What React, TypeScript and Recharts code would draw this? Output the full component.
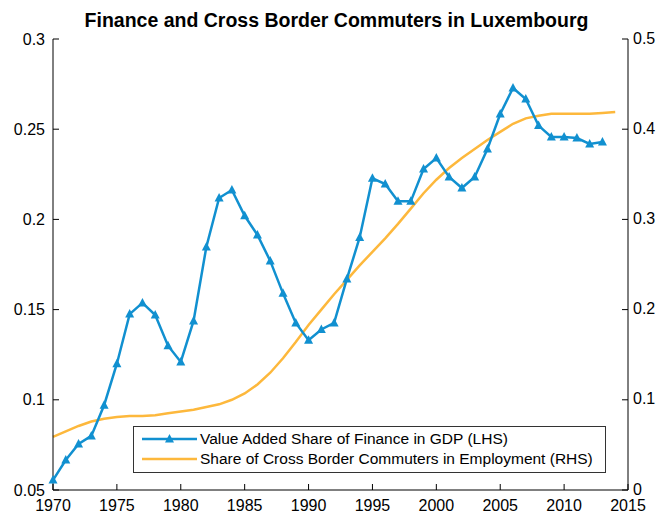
import { Legend, Line, LineChart, XAxis, YAxis } from "recharts";

const years = [
  1970, 1971, 1972, 1973, 1974, 1975, 1976, 1977, 1978, 1979, 1980, 1981, 1982, 1983, 1984,
  1985, 1986, 1987, 1988, 1989, 1990, 1991, 1992, 1993, 1994, 1995, 1996, 1997, 1998, 1999,
  2000, 2001, 2002, 2003, 2004, 2005, 2006, 2007, 2008, 2009, 2010, 2011, 2012, 2013, 2014,
];

// value added share of finance in GDP (left axis), no 2014 value
const financeShare = [
  0.0555, 0.0666, 0.0755, 0.08, 0.097, 0.12, 0.1475, 0.1537, 0.147, 0.13, 0.121, 0.1437,
  0.1847, 0.2119, 0.2163, 0.202, 0.1914, 0.177, 0.159, 0.1426, 0.133, 0.139, 0.1426, 0.167,
  0.19, 0.2228, 0.2196, 0.21, 0.21, 0.2279, 0.234, 0.2235, 0.2174, 0.2235, 0.239, 0.2584,
  0.2728, 0.2667, 0.252, 0.2457, 0.2457, 0.2451, 0.2418, 0.2429, null,
];

// share of cross border commuters in employment (right axis)
const commuterShare = [
  0.059, 0.065, 0.071, 0.076, 0.079, 0.081, 0.082, 0.082, 0.083, 0.085, 0.087, 0.089, 0.092,
  0.095, 0.1, 0.107, 0.117, 0.13, 0.146, 0.164, 0.183, 0.2, 0.217, 0.233, 0.249, 0.264, 0.279,
  0.295, 0.312, 0.329, 0.344, 0.357, 0.368, 0.378, 0.388, 0.397, 0.406, 0.412, 0.415, 0.417,
  0.417, 0.417, 0.417, 0.418, 0.419,
];

const yearTicks = [1970, 1975, 1980, 1985, 1990, 1995, 2000, 2005, 2010, 2015];
const leftTicks = [0.05, 0.1, 0.15, 0.2, 0.25, 0.3];
const rightTicks = [0, 0.1, 0.2, 0.3, 0.4, 0.5];

const financeLabel = "Value Added Share of Finance in GDP (LHS)";
const commuterLabel = "Share of Cross Border Commuters in Employment (RHS)";

const data = years.map((year, i) => ({
  year,
  finance: financeShare[i],
  commuters: commuterShare[i],
}));

const BLUE = "#1190d0";
const ORANGE = "#fdb83c";
const FONT = "'Liberation Sans', Arial, Helvetica, sans-serif";

const LeftTick = ({ x, y, payload }: any) => (
  <g>
    <line x1={x} x2={x + 6} y1={y} y2={y} stroke="#000" />
    <text x={x - 8} y={y} textAnchor="end" dominantBaseline="central" fontSize={16} fill="#000">
      {String(payload.value)}
    </text>
  </g>
);

const RightTick = ({ x, y, payload }: any) => (
  <g>
    <line x1={x} x2={x - 6} y1={y} y2={y} stroke="#000" />
    <text x={x + 5} y={y - 1} textAnchor="start" dominantBaseline="central" fontSize={16} fill="#000">
      {String(payload.value)}
    </text>
  </g>
);

const BottomTick = ({ x, y, payload }: any) => (
  <g>
    <line x1={x} x2={x} y1={y} y2={y - 6} stroke="#000" />
    <text x={x} y={y + 15} textAnchor="middle" dominantBaseline="central" fontSize={16} fill="#000">
      {payload.value}
    </text>
  </g>
);

const TopTick = ({ x, y }: any) => <line x1={x} x2={x} y1={y} y2={y + 6} stroke="#000" />;

const Triangle = ({ cx, cy }: any) => {
  if (cx == null || cy == null) return null;
  return <path d={`M${cx},${cy - 5} L${cx + 4.5},${cy + 3.5} L${cx - 4.5},${cy + 3.5} Z`} fill={BLUE} />;
};

const LegendBox = () => (
  <div
    style={{
      border: "1px solid #333",
      background: "#fff",
      fontFamily: FONT,
      fontSize: 15.5,
      padding: "2px 2px 3px 6px",
      lineHeight: "20px",
      whiteSpace: "nowrap",
      boxSizing: "border-box",
      width: 473,
    }}
  >
    <div style={{ display: "flex", alignItems: "center" }}>
      <svg width={57} height={20} style={{ marginRight: 3, flexShrink: 0 }}>
        <line x1={2} x2={57} y1={10} y2={10} stroke={BLUE} strokeWidth={2.5} />
        <path d="M29.5,5 L34,13.5 L25,13.5 Z" fill={BLUE} />
      </svg>
      <span>{financeLabel}</span>
    </div>
    <div style={{ display: "flex", alignItems: "center" }}>
      <svg width={57} height={20} style={{ marginRight: 3, flexShrink: 0 }}>
        <line x1={2} x2={57} y1={10} y2={10} stroke={ORANGE} strokeWidth={2.5} />
      </svg>
      <span>{commuterLabel}</span>
    </div>
  </div>
);

export default function App() {
  return (
    <div style={{ position: "absolute", left: 0, top: 0, width: 656, height: 514, background: "#fff", fontFamily: FONT }}>
      <div
        style={{
          position: "absolute",
          left: 0,
          width: 673,
          top: 9,
          textAlign: "center",
          fontWeight: "bold",
          fontSize: 19.5,
          fontFamily: FONT,
          zIndex: 1,
        }}
      >
        Finance and Cross Border Commuters in Luxembourg
      </div>
      <LineChart width={656} height={514} data={data} margin={{ top: 39, right: 0, bottom: 0, left: 0 }}>
        <XAxis
          dataKey="year"
          type="number"
          domain={[1970, 2015]}
          ticks={yearTicks}
          interval={0}
          tickSize={0}
          tickMargin={0}
          height={24}
          stroke="#000"
          tick={<BottomTick />}
        />
        <XAxis
          xAxisId="top"
          dataKey="year"
          type="number"
          orientation="top"
          domain={[1970, 2015]}
          ticks={yearTicks}
          interval={0}
          tickSize={0}
          tickMargin={0}
          height={0}
          stroke="#000"
          tick={<TopTick />}
        />
        <YAxis
          yAxisId="left"
          domain={[0.05, 0.3]}
          ticks={leftTicks}
          interval={0}
          tickSize={0}
          tickMargin={0}
          width={53}
          stroke="#000"
          allowDataOverflow
          tick={<LeftTick />}
        />
        <YAxis
          yAxisId="right"
          orientation="right"
          domain={[0, 0.5]}
          ticks={rightTicks}
          interval={0}
          tickSize={0}
          tickMargin={0}
          width={28}
          stroke="#000"
          allowDataOverflow
          tick={<RightTick />}
        />
        <Line
          yAxisId="right"
          dataKey="commuters"
          stroke={ORANGE}
          strokeWidth={2.5}
          dot={false}
          isAnimationActive={false}
        />
        <Line
          yAxisId="left"
          dataKey="finance"
          stroke={BLUE}
          strokeWidth={2.5}
          dot={<Triangle />}
          activeDot={false}
          connectNulls={false}
          isAnimationActive={false}
        />
        <Legend
          layout="horizontal"
          align="center"
          verticalAlign="middle"
          content={<LegendBox />}
          wrapperStyle={{ position: "absolute", left: 133, top: 426, width: 473, bottom: "auto" }}
        />
      </LineChart>
    </div>
  );
}
